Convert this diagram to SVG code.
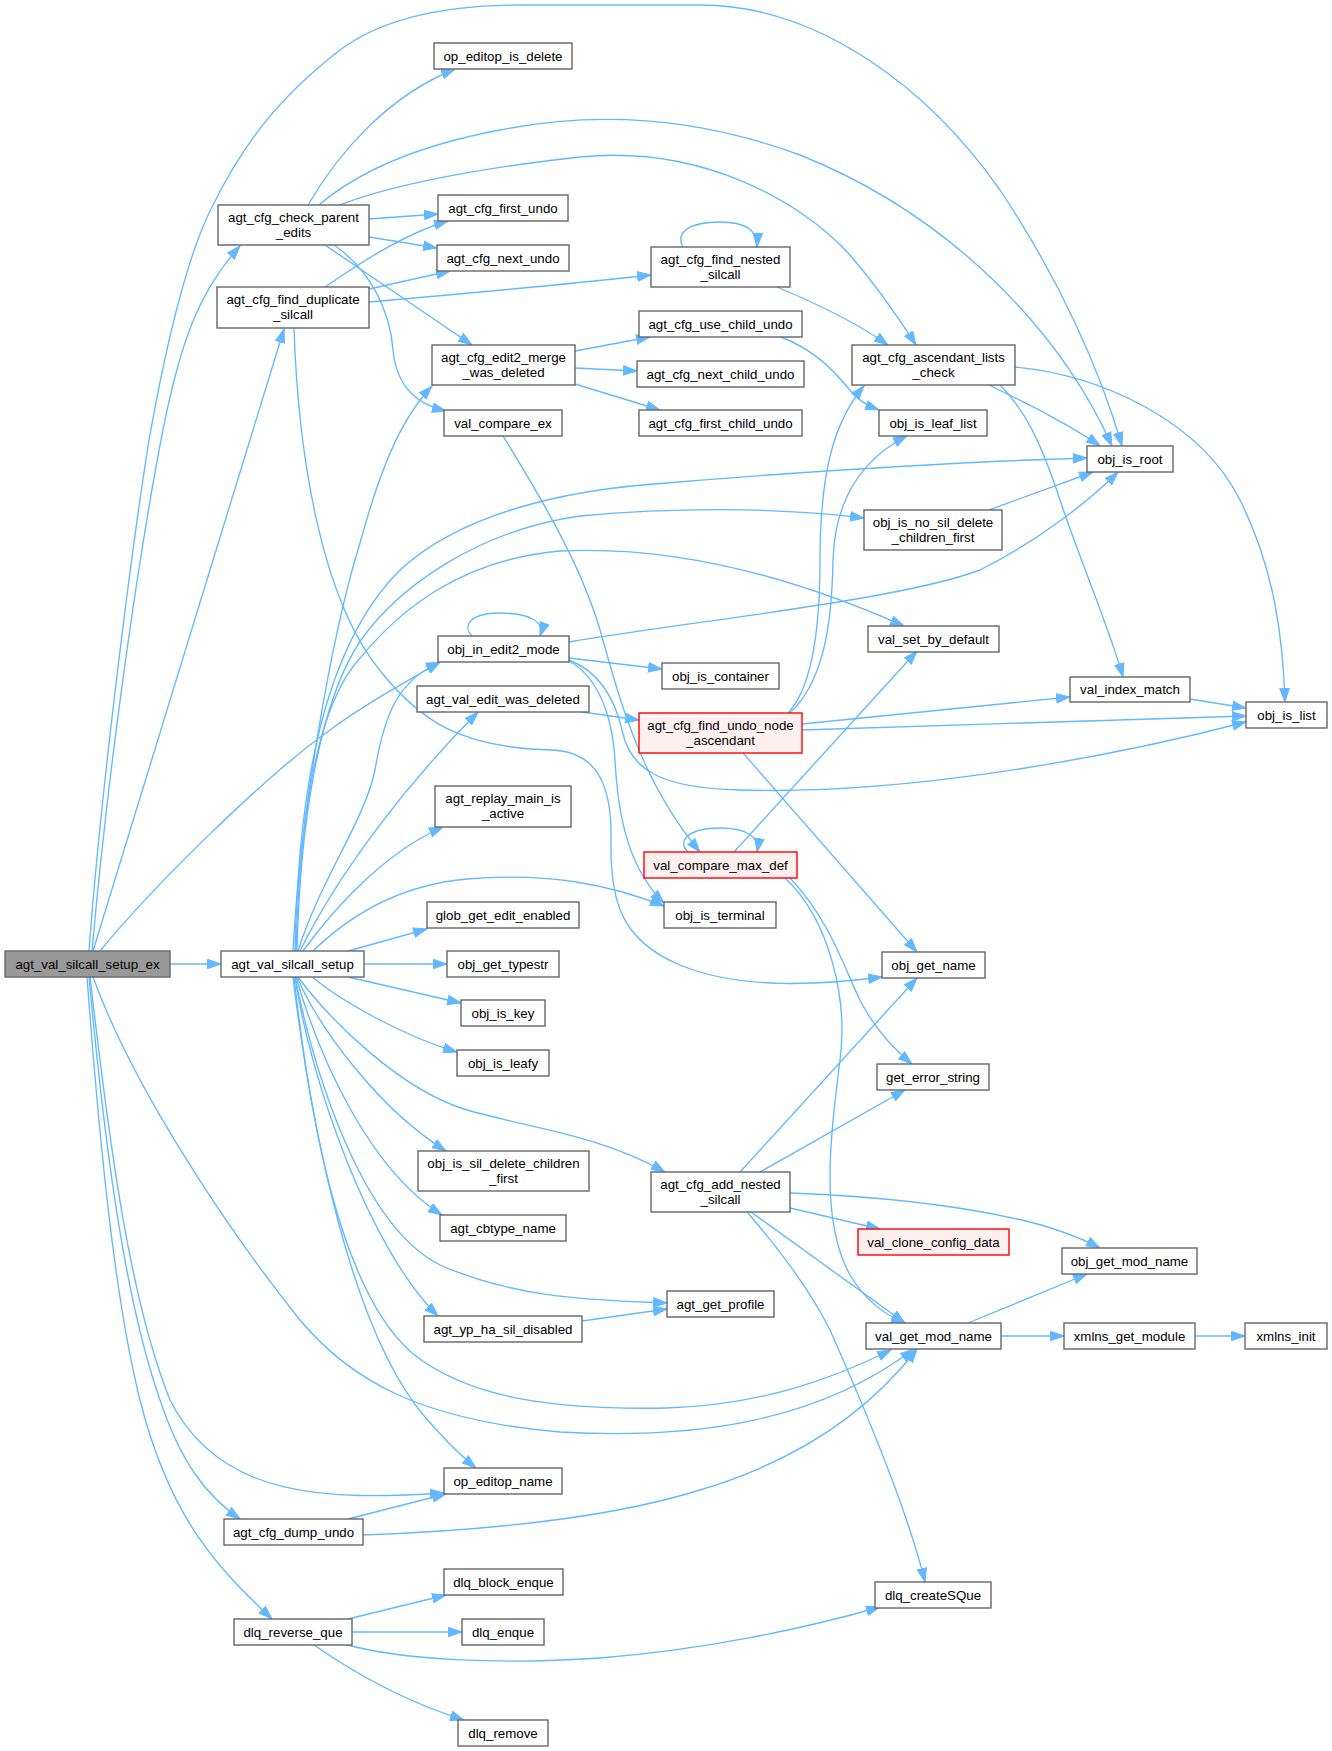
<svg xmlns="http://www.w3.org/2000/svg" width="1332" height="1751" viewBox="0 0 1332 1751">
<style>
.n rect{fill:#ffffff;stroke:#666666;stroke-width:1.4}
.n.g rect{fill:#999999}
.n.r rect{fill:#fff0f0;stroke:#ff0000}
.n text{font-family:"Liberation Sans",Arial,Helvetica,sans-serif;font-size:13.3px;fill:#000000;text-anchor:middle}
#edges path{fill:none;stroke:#63b8ff;stroke-width:1.35;marker-end:url(#arr)}
</style>
<defs>
<marker id="arr" markerWidth="15" markerHeight="11" refX="14" refY="5.5" orient="auto" markerUnits="userSpaceOnUse">
<path d="M0.5,0.8 L14,5.5 L0.5,10.2 z" fill="#63b8ff" stroke="#63b8ff" stroke-width="1"/>
</marker>
</defs>
<rect width="1332" height="1751" fill="#ffffff"/>
<g id="edges">
<!-- from agt_val_silcall_setup_ex -->
<path d="M89,951 C100,800 130,560 149,440 C165,350 185,260 212,207 C240,150 275,100 340,50 C380,20 440,5 520,5 L700,5 C820,5 930,90 1000,190 C1060,280 1100,370 1122,446"/>
<path d="M92,951 C110,750 140,550 161,440 C180,340 200,290 240,246"/>
<path d="M93,951 L284,329"/>
<path d="M100,951 C150,890 260,780 330,730 C370,700 410,680 440,662"/>
<path d="M170,964 L221,964"/>
<path d="M93,977 C130,1080 220,1220 300,1320 C350,1380 420,1420 560,1432 C700,1440 820,1420 914,1349"/>
<path d="M90,977 C110,1150 130,1300 170,1400 C220,1500 330,1500 444,1493"/>
<path d="M89,977 C105,1150 125,1300 160,1400 C180,1460 205,1495 240,1519"/>
<path d="M87,977 C100,1150 115,1300 140,1400 C170,1520 220,1570 272,1619"/>
<!-- from agt_val_silcall_setup -->
<path d="M293,951 C300,820 330,640 360,543 C380,470 400,420 432,386"/>
<path d="M295,951 C298,800 320,650 400,570 C460,515 560,490 666,483 C800,472 950,462 1087,458"/>
<path d="M297,951 C300,820 320,700 361,640 C400,585 480,530 580,516 C700,505 800,510 864,518"/>
<path d="M296,951 C300,800 320,700 361,657 C400,610 460,560 560,551 C680,545 800,580 904,626"/>
<path d="M298,951 C320,880 365,820 375,770 C385,710 400,680 440,662"/>
<path d="M300,951 C340,870 410,780 478,712"/>
<path d="M303,951 C340,900 390,850 443,827"/>
<path d="M313,951 C350,915 400,885 467,879 C550,872 610,885 664,906"/>
<path d="M348,951 L427,929"/>
<path d="M364,964 L447,964"/>
<path d="M348,977 L461,1003"/>
<path d="M312,977 C340,1000 400,1035 457,1052"/>
<path d="M298,977 C330,1020 400,1090 467,1110 C530,1128 600,1135 665,1172"/>
<path d="M297,977 C320,1030 380,1110 446,1151"/>
<path d="M296,977 C320,1060 370,1170 442,1215"/>
<path d="M295,977 C320,1100 370,1230 440,1265 C520,1300 600,1300 667,1303"/>
<path d="M295,977 C310,1080 370,1250 438,1316"/>
<path d="M294,977 C310,1120 340,1290 412,1353 C470,1400 560,1410 666,1408 C760,1405 830,1380 891,1350"/>
<path d="M293,977 C310,1120 350,1330 425,1417 C445,1440 460,1455 476,1468"/>
<!-- from agt_cfg_check_parent_edits -->
<path d="M308,205 C340,150 390,95 455,69"/>
<path d="M319,205 C360,170 420,145 500,130 C600,110 700,118 800,155 C950,215 1060,330 1112,446"/>
<path d="M340,205 C390,185 480,168 580,157 C700,145 800,200 850,255 C880,290 900,320 916,345"/>
<path d="M369,219 L438,214"/>
<path d="M369,237 L437,248"/>
<path d="M325,245 L472,345"/>
<path d="M334,245 C370,270 390,310 393,350 C397,390 420,405 446,411"/>
<!-- from agt_cfg_find_duplicate_silcall -->
<path d="M325,287 C350,270 400,235 448,221"/>
<path d="M369,289 L450,271"/>
<path d="M369,302 C450,295 560,285 651,275"/>
<path d="M294,328 C298,450 320,600 382,673 C420,720 460,748 552,750 C600,752 612,790 611,840 C610,900 620,940 680,965 C740,990 820,985 882,977"/>
<!-- agt_cfg_edit2_merge_was_deleted -->
<path d="M575,351 L650,337"/>
<path d="M575,368 L637,371"/>
<path d="M575,384 L660,410"/>
<!-- val_compare_ex -->
<path d="M503,436 C530,480 580,560 600,630 C620,700 640,780 700,852"/>
<!-- agt_cfg_find_nested_silcall -->
<path d="M683,247 C675,232 690,222 720,222 C745,222 758,230 757,247"/>
<path d="M777,287 C820,305 860,325 888,345"/>
<!-- agt_cfg_use_child_undo -->
<path d="M781,337 C815,350 835,372 848,388 C858,400 866,405 879,410"/>
<!-- agt_cfg_ascendant_lists_check -->
<path d="M989,385 C1030,405 1070,425 1100,446"/>
<path d="M1015,367 C1100,375 1200,420 1240,500 C1275,570 1283,640 1285,702"/>
<path d="M1000,385 C1025,410 1040,440 1060,500 C1080,560 1110,630 1123,677"/>
<!-- obj_is_no_sil_delete_children_first -->
<path d="M989,510 L1093,472"/>
<!-- agt_cfg_find_undo_node_ascendant -->
<path d="M788,713 C810,690 820,640 820,560 C820,470 835,420 864,386"/>
<path d="M790,713 C825,680 832,620 833,560 C835,500 860,460 907,436"/>
<path d="M802,724 L1070,697"/>
<path d="M802,730 L1246,716"/>
<path d="M743,753 L917,952"/>
<!-- agt_val_edit_was_deleted -->
<path d="M582,712 L639,720"/>
<!-- obj_in_edit2_mode -->
<path d="M472,636 C462,626 470,613 500,613 C530,613 545,622 540,636"/>
<path d="M569,642 C700,620 900,600 980,570 C1040,540 1090,500 1118,472"/>
<path d="M569,658 L662,669"/>
<path d="M569,660 C600,672 615,700 622,730 C630,770 660,788 740,790 C900,795 1100,760 1246,722"/>
<path d="M569,661 C595,675 612,710 615,760 C618,820 630,870 664,903"/>
<!-- val_compare_max_def -->
<path d="M688,852 C676,840 690,828 720,828 C745,828 760,836 757,852"/>
<path d="M734,852 L917,651"/>
<path d="M790,878 C830,920 845,970 860,1000 C875,1030 895,1050 912,1064"/>
<path d="M785,878 C830,920 848,1000 840,1060 C830,1140 820,1220 850,1275 C865,1300 885,1315 905,1323"/>
<!-- agt_cfg_add_nested_silcall -->
<path d="M740,1172 L917,978"/>
<path d="M760,1172 L905,1090"/>
<path d="M790,1208 L880,1229"/>
<path d="M790,1193 C870,1196 960,1205 1030,1222 C1060,1230 1085,1240 1100,1248"/>
<path d="M751,1212 L905,1323"/>
<path d="M747,1212 C780,1250 810,1290 830,1330 C870,1420 910,1520 925,1582"/>
<!-- agt_yp_ha_sil_disabled -->
<path d="M582,1321 L667,1309"/>
<!-- val_get_mod_name -->
<path d="M968,1323 L1087,1274"/>
<path d="M1001,1336 L1064,1336"/>
<!-- xmlns_get_module -->
<path d="M1195,1336 L1245,1336"/>
<!-- agt_cfg_dump_undo -->
<path d="M363,1535 C500,1530 620,1515 700,1490 C800,1460 870,1410 917,1349"/>
<path d="M348,1519 L446,1494"/>
<!-- dlq_reverse_que -->
<path d="M348,1619 L446,1595"/>
<path d="M352,1632 L462,1632"/>
<path d="M314,1645 C350,1670 400,1700 464,1720"/>
<path d="M344,1644 C400,1660 500,1665 600,1658 C700,1650 800,1630 880,1607"/>
<!-- val_index_match -->
<path d="M1190,699 L1246,708"/>
</g>
<g id="n_agt_val_silcall_setup_ex" class="n g"><rect x="5" y="951" width="165" height="26"/><text x="87.5" y="968.5">agt_val_silcall_setup_ex</text></g>
<g id="n_agt_val_silcall_setup" class="n"><rect x="221" y="951" width="143" height="26"/><text x="292.5" y="968.5">agt_val_silcall_setup</text></g>
<g id="n_agt_cfg_check_parent_edits" class="n"><rect x="218" y="205" width="151" height="40"/><text x="293.5" y="221.5">agt_cfg_check_parent</text><text x="293.5" y="236.5">_edits</text></g>
<g id="n_agt_cfg_find_duplicate_silcall" class="n"><rect x="217" y="287" width="152" height="41"/><text x="293" y="303.5">agt_cfg_find_duplicate</text><text x="293" y="318.5">_silcall</text></g>
<g id="n_op_editop_is_delete" class="n"><rect x="434" y="43" width="138" height="26"/><text x="503" y="60.5">op_editop_is_delete</text></g>
<g id="n_agt_cfg_first_undo" class="n"><rect x="438" y="195" width="130" height="26"/><text x="503" y="212.5">agt_cfg_first_undo</text></g>
<g id="n_agt_cfg_next_undo" class="n"><rect x="437" y="245" width="132" height="26"/><text x="503" y="262.5">agt_cfg_next_undo</text></g>
<g id="n_agt_cfg_edit2_merge_was_deleted" class="n"><rect x="432" y="345" width="143" height="40"/><text x="503.5" y="361.5">agt_cfg_edit2_merge</text><text x="503.5" y="376.5">_was_deleted</text></g>
<g id="n_val_compare_ex" class="n"><rect x="444" y="410" width="118" height="26"/><text x="503" y="427.5">val_compare_ex</text></g>
<g id="n_agt_cfg_find_nested_silcall" class="n"><rect x="651" y="247" width="139" height="40"/><text x="720.5" y="263.5">agt_cfg_find_nested</text><text x="720.5" y="278.5">_silcall</text></g>
<g id="n_agt_cfg_use_child_undo" class="n"><rect x="639" y="311" width="163" height="26"/><text x="720.5" y="328.5">agt_cfg_use_child_undo</text></g>
<g id="n_agt_cfg_next_child_undo" class="n"><rect x="637" y="361" width="167" height="26"/><text x="720.5" y="378.5">agt_cfg_next_child_undo</text></g>
<g id="n_agt_cfg_first_child_undo" class="n"><rect x="639" y="410" width="163" height="26"/><text x="720.5" y="427.5">agt_cfg_first_child_undo</text></g>
<g id="n_agt_cfg_ascendant_lists_check" class="n"><rect x="852" y="345" width="163" height="40"/><text x="933.5" y="361.5">agt_cfg_ascendant_lists</text><text x="933.5" y="376.5">_check</text></g>
<g id="n_obj_is_leaf_list" class="n"><rect x="879" y="410" width="108" height="26"/><text x="933" y="427.5">obj_is_leaf_list</text></g>
<g id="n_obj_is_root" class="n"><rect x="1087" y="446" width="86" height="26"/><text x="1130" y="463.5">obj_is_root</text></g>
<g id="n_obj_is_no_sil_delete_children_first" class="n"><rect x="864" y="510" width="138" height="40"/><text x="933" y="526.5">obj_is_no_sil_delete</text><text x="933" y="541.5">_children_first</text></g>
<g id="n_val_set_by_default" class="n"><rect x="868" y="626" width="131" height="26"/><text x="933.5" y="643.5">val_set_by_default</text></g>
<g id="n_obj_in_edit2_mode" class="n"><rect x="438" y="636" width="131" height="26"/><text x="503.5" y="653.5">obj_in_edit2_mode</text></g>
<g id="n_obj_is_container" class="n"><rect x="662" y="663" width="117" height="26"/><text x="720.5" y="680.5">obj_is_container</text></g>
<g id="n_agt_val_edit_was_deleted" class="n"><rect x="417" y="686" width="172" height="26"/><text x="503" y="703.5">agt_val_edit_was_deleted</text></g>
<g id="n_agt_cfg_find_undo_node_ascendant" class="n r"><rect x="639" y="713" width="163" height="40"/><text x="720.5" y="729.5">agt_cfg_find_undo_node</text><text x="720.5" y="744.5">_ascendant</text></g>
<g id="n_val_index_match" class="n"><rect x="1070" y="677" width="120" height="25"/><text x="1130" y="694">val_index_match</text></g>
<g id="n_obj_is_list" class="n"><rect x="1246" y="702" width="81" height="26"/><text x="1286.5" y="719.5">obj_is_list</text></g>
<g id="n_agt_replay_main_is_active" class="n"><rect x="435" y="786" width="136" height="41"/><text x="503" y="802.5">agt_replay_main_is</text><text x="503" y="817.5">_active</text></g>
<g id="n_val_compare_max_def" class="n r"><rect x="644" y="852" width="153" height="26"/><text x="720.5" y="869.5">val_compare_max_def</text></g>
<g id="n_glob_get_edit_enabled" class="n"><rect x="427" y="902" width="152" height="26"/><text x="503" y="919.5">glob_get_edit_enabled</text></g>
<g id="n_obj_is_terminal" class="n"><rect x="664" y="902" width="112" height="26"/><text x="720" y="919.5">obj_is_terminal</text></g>
<g id="n_obj_get_name" class="n"><rect x="882" y="952" width="103" height="26"/><text x="933.5" y="969.5">obj_get_name</text></g>
<g id="n_obj_get_typestr" class="n"><rect x="447" y="951" width="112" height="26"/><text x="503" y="968.5">obj_get_typestr</text></g>
<g id="n_obj_is_key" class="n"><rect x="461" y="1000" width="84" height="26"/><text x="503" y="1017.5">obj_is_key</text></g>
<g id="n_obj_is_leafy" class="n"><rect x="457" y="1050" width="92" height="26"/><text x="503" y="1067.5">obj_is_leafy</text></g>
<g id="n_get_error_string" class="n"><rect x="877" y="1064" width="112" height="26"/><text x="933" y="1081.5">get_error_string</text></g>
<g id="n_obj_is_sil_delete_children_first" class="n"><rect x="418" y="1151" width="171" height="40"/><text x="503.5" y="1167.5">obj_is_sil_delete_children</text><text x="503.5" y="1182.5">_first</text></g>
<g id="n_agt_cfg_add_nested_silcall" class="n"><rect x="651" y="1172" width="139" height="40"/><text x="720.5" y="1188.5">agt_cfg_add_nested</text><text x="720.5" y="1203.5">_silcall</text></g>
<g id="n_agt_cbtype_name" class="n"><rect x="440" y="1215" width="126" height="26"/><text x="503" y="1232.5">agt_cbtype_name</text></g>
<g id="n_val_clone_config_data" class="n r"><rect x="858" y="1229" width="151" height="26"/><text x="933.5" y="1246.5">val_clone_config_data</text></g>
<g id="n_obj_get_mod_name" class="n"><rect x="1062" y="1248" width="135" height="26"/><text x="1129.5" y="1265.5">obj_get_mod_name</text></g>
<g id="n_agt_get_profile" class="n"><rect x="667" y="1291" width="107" height="26"/><text x="720.5" y="1308.5">agt_get_profile</text></g>
<g id="n_agt_yp_ha_sil_disabled" class="n"><rect x="424" y="1316" width="158" height="26"/><text x="503" y="1333.5">agt_yp_ha_sil_disabled</text></g>
<g id="n_val_get_mod_name" class="n"><rect x="866" y="1323" width="135" height="26"/><text x="933.5" y="1340.5">val_get_mod_name</text></g>
<g id="n_xmlns_get_module" class="n"><rect x="1064" y="1323" width="131" height="26"/><text x="1129.5" y="1340.5">xmlns_get_module</text></g>
<g id="n_xmlns_init" class="n"><rect x="1245" y="1323" width="82" height="26"/><text x="1286" y="1340.5">xmlns_init</text></g>
<g id="n_op_editop_name" class="n"><rect x="444" y="1468" width="118" height="26"/><text x="503" y="1485.5">op_editop_name</text></g>
<g id="n_agt_cfg_dump_undo" class="n"><rect x="224" y="1519" width="139" height="26"/><text x="293.5" y="1536.5">agt_cfg_dump_undo</text></g>
<g id="n_dlq_block_enque" class="n"><rect x="444" y="1569" width="119" height="26"/><text x="503.5" y="1586.5">dlq_block_enque</text></g>
<g id="n_dlq_createSQue" class="n"><rect x="875" y="1582" width="116" height="26"/><text x="933" y="1599.5">dlq_createSQue</text></g>
<g id="n_dlq_enque" class="n"><rect x="462" y="1619" width="82" height="26"/><text x="503" y="1636.5">dlq_enque</text></g>
<g id="n_dlq_reverse_que" class="n"><rect x="234" y="1619" width="118" height="26"/><text x="293" y="1636.5">dlq_reverse_que</text></g>
<g id="n_dlq_remove" class="n"><rect x="458" y="1720" width="90" height="26"/><text x="503" y="1737.5">dlq_remove</text></g>
</svg>
